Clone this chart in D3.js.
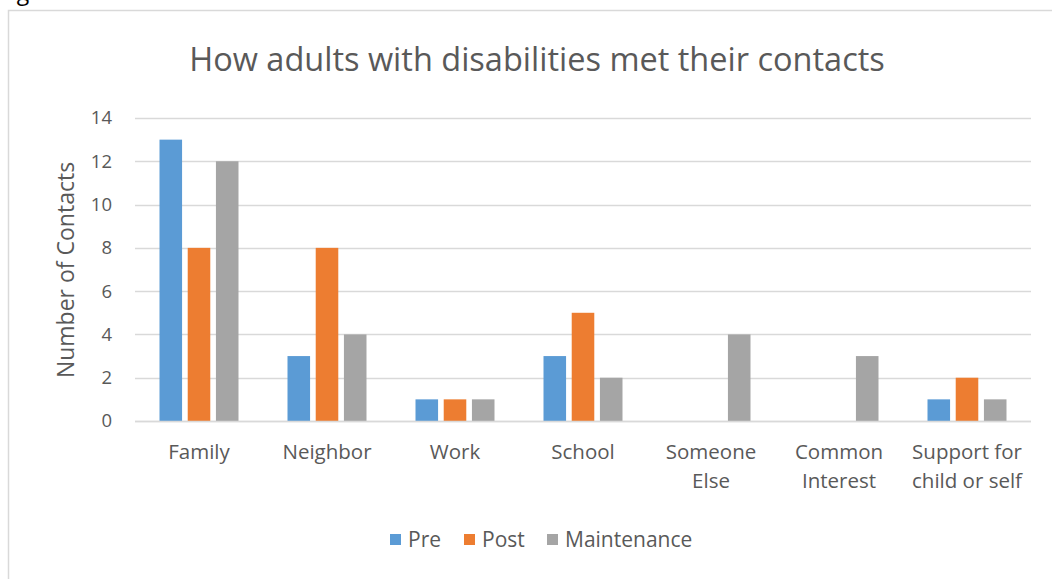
<!DOCTYPE html>
<html><head><meta charset="utf-8">
<script src="https://cdn.jsdelivr.net/npm/d3@7"></script>
<style>body{margin:0;background:#fff;}svg{display:block;font-family:"Open Sans",sans-serif;}</style>
</head><body>
<svg id="c" width="1052" height="579"></svg>
<script>
const categories = [["Family"],["Neighbor"],["Work"],["School"],["Someone","Else"],["Common","Interest"],["Support for","child or self"]];
const seriesNames = ["Pre","Post","Maintenance"];
const preValues = [13,3,1,3,0,0,1];
const postValues = [8,8,1,5,0,0,2];
const maintValues = [12,4,1,2,4,3,1];
const yTicks = [0,2,4,6,8,10,12,14];
const colors = ["#5B9BD5","#ED7D31","#A5A5A5"];

(function(){
const svg = d3.select("#c");
const txt = "#595959";
svg.append("text").attr("x",-1).attr("y",0).attr("font-size",23).attr("fill","#000").text("Figure 6");
svg.append("rect").attr("x",8.5).attr("y",10.5).attr("width",1100).attr("height",600).attr("fill","#fff").attr("stroke","#d9d9d9").attr("stroke-width",1.5);

const pLeft=135,pRight=1031,pTop=118,pBottom=421;
const x = d3.scaleBand().domain(d3.range(categories.length)).range([pLeft,pRight]);
const y = d3.scaleLinear().domain([0,14]).range([pBottom,pTop]);

svg.append("text").attr("x",537).attr("y",71).attr("text-anchor","middle").attr("font-size",32.5).attr("fill",txt).text("How adults with disabilities met their contacts");

svg.append("g").selectAll("line").data(yTicks).join("line")
  .attr("x1",pLeft).attr("x2",pRight).attr("y1",d=>Math.round(y(d))+0.5).attr("y2",d=>Math.round(y(d))+0.5)
  .attr("stroke","#d9d9d9").attr("stroke-width",1.3);
const yAxis = d3.axisLeft(y).tickValues(yTicks).tickSize(0).tickPadding(0);
const ga = svg.append("g").attr("transform",`translate(${pLeft-23},0)`).call(yAxis);
ga.select(".domain").remove();
ga.selectAll("text").attr("font-size",18.5).attr("fill",txt).attr("font-family","'Open Sans',sans-serif");

svg.append("text").attr("transform","translate(74,270) rotate(-90)").attr("text-anchor","middle").attr("font-size",23).attr("fill",txt).text("Number of Contacts");

const inner = d3.scaleBand().domain(d3.range(3)).range([0,79]).paddingInner(0.2);
const data = [preValues,postValues,maintValues];
data.forEach((vals,si)=>{
  svg.append("g").selectAll("rect").data(vals).join("rect")
    .attr("x",(d,i)=>x(i)+x.bandwidth()/2-39.5+inner(si))
    .attr("width",inner.bandwidth())
    .attr("y",d=>y(d)).attr("height",d=>pBottom-y(d))
    .attr("fill",colors[si]);
});
svg.append("line").attr("x1",pLeft).attr("x2",pRight).attr("y1",pBottom+0.5).attr("y2",pBottom+0.5).attr("stroke","#d9d9d9").attr("stroke-width",1.5);

const cl = svg.append("g").selectAll("text").data(categories).join("text")
  .attr("x",(d,i)=>x(i)+x.bandwidth()/2).attr("y",459).attr("text-anchor","middle").attr("font-size",20.5).attr("fill",txt);
cl.selectAll("tspan").data(d=>d).join("tspan").attr("x",function(){return this.parentNode.getAttribute("x");}).attr("dy",(d,i)=>i?29:0).text(d=>d);

const legX=[390,464,547];
const lg = svg.append("g").selectAll("g").data(seriesNames).join("g").attr("transform",(d,i)=>`translate(${legX[i]},534)`);
lg.append("rect").attr("width",11).attr("height",11).attr("fill",(d,i)=>colors[i]);
lg.append("text").attr("x",18).attr("y",13).attr("font-size",21).attr("fill",txt).text(d=>d);
})();
</script>
</body></html>
